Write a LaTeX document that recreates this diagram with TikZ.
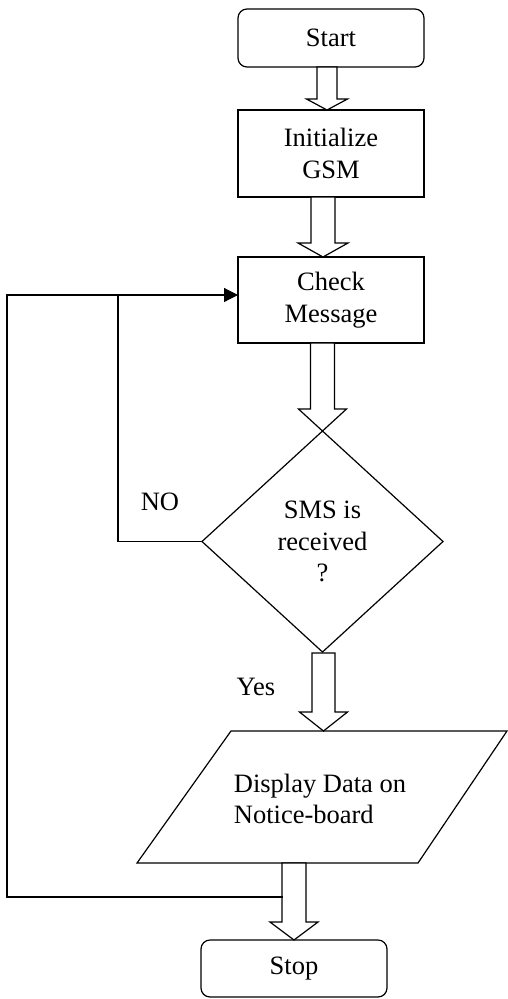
\documentclass[tikz,border=0pt]{standalone}
\usepackage{fontspec}
\setmainfont{Liberation Serif}
\usetikzlibrary{shapes.geometric,arrows.meta,calc}
\newcommand{\blkarrow}[5]{%
  \path[blk] let \p1=(#1), \p2=(#2) in
    (\x2-#3pt,\y1) -- (\x2-#3pt,\y2+#5pt) -- (\x2-#4pt,\y2+#5pt) -- (\x2,\y2)
    -- (\x2+#4pt,\y2+#5pt) -- (\x2+#3pt,\y2+#5pt) -- (\x2+#3pt,\y1) -- cycle;}
\begin{document}
\begin{tikzpicture}[x=1pt,y=-1pt,
  every node/.style={font=\fontsize{26.5}{31.5}\selectfont,outer sep=0pt},
  line width=1.2pt,
  termbox/.style={draw,rounded corners=9pt,minimum width=186pt,minimum height=58pt,inner sep=0pt},
  procbox/.style={draw,minimum width=186pt,inner sep=0pt,align=center},
  decbox/.style={draw,diamond,minimum width=241pt,minimum height=221pt,inner sep=0pt,align=center},
  blk/.style={draw,fill=white,line join=miter},
  flow/.style={draw},
  lbl/.style={inner sep=0pt}]
\useasboundingbox (0,0) rectangle (508,999);

\node[termbox] (start) at (331,38) {Start};
\node[procbox,minimum height=87pt] (init) at (331,153.5) {Initialize\\GSM};
\node[procbox,minimum height=86pt] (check) at (331,300) {Check\\Message};
\node[decbox] (dec) at (322.5,541.5) {SMS is\\received\\?};

% parallelogram
\coordinate (pbl) at (137,863);
\coordinate (pbr) at (418,863);
\coordinate (ptr) at (507,731);
\coordinate (ptl) at (231,731);
\draw (pbl) -- (pbr) -- (ptr) -- (ptl) -- cycle;
\node[lbl,align=left] (disp) at (320,799) {Display Data on\\Notice-board};
\coordinate (dtop) at (323.5,731);
\coordinate (dbot) at (295,863);

\node[termbox,minimum height=57pt] (stop) at (294,968.5) {Stop};

% block arrows
\blkarrow{start.south}{$(init.north)+(-4,0)$}{10}{20.5}{11}
\blkarrow{init.south}{$(check.north)+(-8,0)$}{12}{25}{14}
\blkarrow{check.south}{dec.north}{12}{24}{22}
\blkarrow{$(dec.south)+(0,1)$}{dtop}{11.5}{24}{19}
\blkarrow{dbot}{stop.north}{12}{24}{18}

% loop connectors
\coordinate (ain) at ($(check.west)+(0,-5)$);
\coordinate (jn) at (118,295);
\coordinate (ls) at (283,897);
\coordinate (lx) at (7,897);
\draw[flow] (dec.west) -- (dec.west -| jn) -- (jn);
\draw[flow,-{Triangle[length=14pt,width=14pt]}] (ls) -- (lx) -- (lx |- ain) -- (ain);

\node[lbl] (no) at (160,502) {NO};
\node[lbl] (yes) at (256,687) {Yes};
\end{tikzpicture}
\end{document}
